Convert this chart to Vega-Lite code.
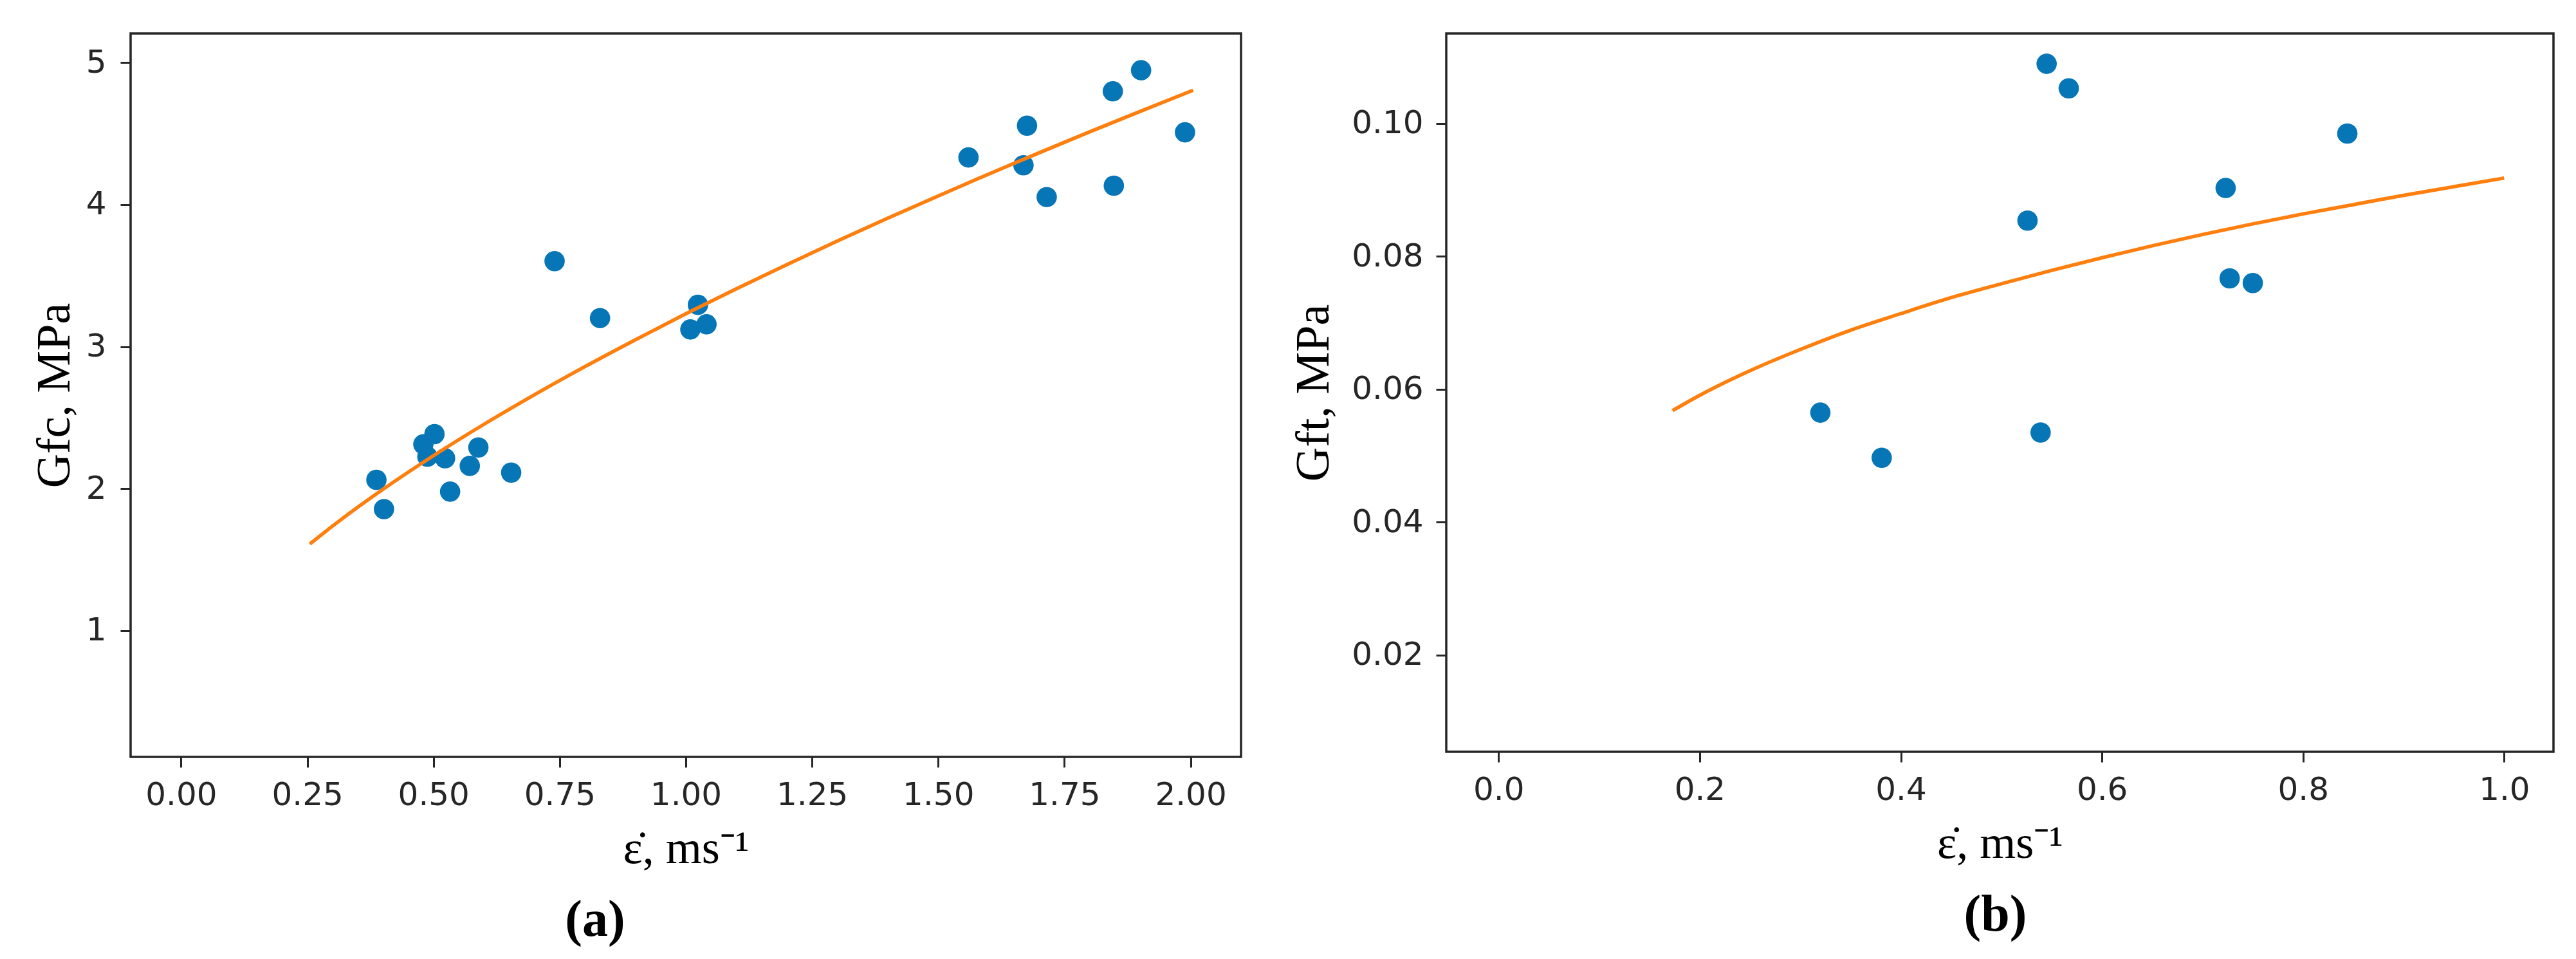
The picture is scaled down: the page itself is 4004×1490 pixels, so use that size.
{
  "$schema": "https://vega.github.io/schema/vega-lite/v6.json",
  "background": "white",
  "padding": {"left": 46, "top": 50, "right": 5, "bottom": 5},
  "datasets": {
    "pa": [
      {"x": 0.387, "y": 2.062}, {"x": 0.402, "y": 1.856}, {"x": 0.48, "y": 2.312}, {"x": 0.488, "y": 2.225},
      {"x": 0.502, "y": 2.384}, {"x": 0.523, "y": 2.214}, {"x": 0.533, "y": 1.979}, {"x": 0.572, "y": 2.16},
      {"x": 0.589, "y": 2.29}, {"x": 0.654, "y": 2.113}, {"x": 0.74, "y": 3.602}, {"x": 0.83, "y": 3.201},
      {"x": 1.009, "y": 3.121}, {"x": 1.024, "y": 3.294}, {"x": 1.041, "y": 3.157}, {"x": 1.56, "y": 4.332},
      {"x": 1.669, "y": 4.277}, {"x": 1.676, "y": 4.556}, {"x": 1.715, "y": 4.053}, {"x": 1.846, "y": 4.798},
      {"x": 1.848, "y": 4.133}, {"x": 1.902, "y": 4.946}, {"x": 1.989, "y": 4.509}
    ],
    "la": [
      {"x": 0.255, "y": 1.61}, {"x": 0.3, "y": 1.736}, {"x": 0.35, "y": 1.869}, {"x": 0.4, "y": 1.995},
      {"x": 0.5, "y": 2.232}, {"x": 0.6, "y": 2.453}, {"x": 0.7, "y": 2.661}, {"x": 0.8, "y": 2.859},
      {"x": 0.9, "y": 3.048}, {"x": 1.0, "y": 3.231}, {"x": 1.1, "y": 3.407}, {"x": 1.2, "y": 3.577},
      {"x": 1.3, "y": 3.743}, {"x": 1.4, "y": 3.904}, {"x": 1.5, "y": 4.061}, {"x": 1.6, "y": 4.215},
      {"x": 1.7, "y": 4.365}, {"x": 1.8, "y": 4.512}, {"x": 1.9, "y": 4.656}, {"x": 2.005, "y": 4.805}
    ],
    "pb": [
      {"x": 0.32, "y": 0.0565}, {"x": 0.381, "y": 0.0497}, {"x": 0.526, "y": 0.0854}, {"x": 0.539, "y": 0.0535},
      {"x": 0.545, "y": 0.109}, {"x": 0.567, "y": 0.1053}, {"x": 0.723, "y": 0.0903}, {"x": 0.727, "y": 0.0767},
      {"x": 0.75, "y": 0.076}, {"x": 0.844, "y": 0.0985}
    ],
    "lb": [
      {"x": 0.173, "y": 0.0568}, {"x": 0.2, "y": 0.0591}, {"x": 0.25, "y": 0.0628}, {"x": 0.3, "y": 0.066},
      {"x": 0.35, "y": 0.0689}, {"x": 0.4, "y": 0.0714}, {"x": 0.45, "y": 0.0738}, {"x": 0.5, "y": 0.0759},
      {"x": 0.55, "y": 0.0779}, {"x": 0.6, "y": 0.0798}, {"x": 0.65, "y": 0.0816}, {"x": 0.7, "y": 0.0833},
      {"x": 0.75, "y": 0.0849}, {"x": 0.8, "y": 0.0864}, {"x": 0.85, "y": 0.0878}, {"x": 0.9, "y": 0.0892},
      {"x": 0.95, "y": 0.0905}, {"x": 1.0, "y": 0.0918}
    ]
  },
  "spacing": 72,
  "hconcat": [
    {
      "width": 1726,
      "height": 1124,
      "title": {"text": "(a)", "orient": "bottom", "frame": "group", "anchor": "middle", "dx": -141, "offset": 37, "font": "Liberation Serif", "fontSize": 80, "fontWeight": "bold", "color": "black"},
      "layer": [
        {
          "data": {"name": "pa"},
          "mark": {"type": "point", "filled": true, "size": 1000, "color": "#0776b6", "opacity": 1},
          "encoding": {
            "x": {"field": "x", "type": "quantitative", "scale": {"domain": [-0.1, 2.1], "nice": false, "zero": false},
                  "axis": {"title": "\u03b5\u0307, ms\u207b\u00b9", "values": [0, 0.25, 0.5, 0.75, 1, 1.25, 1.5, 1.75, 2], "format": ".2f", "titlePadding": 23}},
            "y": {"field": "y", "type": "quantitative", "scale": {"domain": [0.111, 5.205], "nice": false, "zero": false},
                  "axis": {"title": "Gfc, MPa", "titleFontSize": 74, "values": [1, 2, 3, 4, 5], "format": "d", "labelPadding": 22, "titlePadding": 10}}
          }
        },
        {
          "data": {"name": "la"},
          "mark": {"type": "line", "color": "#ff7f0e", "strokeWidth": 5.5, "interpolate": "monotone"},
          "encoding": {
            "x": {"field": "x", "type": "quantitative"},
            "y": {"field": "y", "type": "quantitative"}
          }
        }
      ]
    },
    {
      "width": 1721,
      "height": 1116,
      "title": {"text": "(b)", "orient": "bottom", "frame": "group", "anchor": "middle", "dx": -7, "offset": 37, "font": "Liberation Serif", "fontSize": 80, "fontWeight": "bold", "color": "black"},
      "layer": [
        {
          "data": {"name": "pb"},
          "mark": {"type": "point", "filled": true, "size": 1000, "color": "#0776b6", "opacity": 1},
          "encoding": {
            "x": {"field": "x", "type": "quantitative", "scale": {"domain": [-0.052, 1.049], "nice": false, "zero": false},
                  "axis": {"title": "\u03b5\u0307, ms\u207b\u00b9", "values": [0, 0.2, 0.4, 0.6, 0.8, 1.0], "format": ".1f", "titlePadding": 23}},
            "y": {"field": "y", "type": "quantitative", "scale": {"domain": [0.00546, 0.11356], "nice": false, "zero": false},
                  "axis": {"title": "Gft, MPa", "titleFontSize": 74, "values": [0.02, 0.04, 0.06, 0.08, 0.1], "format": ".2f", "labelPadding": 20, "titlePadding": 20}}
          }
        },
        {
          "data": {"name": "lb"},
          "mark": {"type": "line", "color": "#ff7f0e", "strokeWidth": 5.5, "interpolate": "monotone"},
          "encoding": {
            "x": {"field": "x", "type": "quantitative"},
            "y": {"field": "y", "type": "quantitative"}
          }
        }
      ]
    }
  ],
  "config": {
    "view": {"stroke": "#262626", "strokeWidth": 3.5},
    "axis": {
      "grid": false,
      "domain": false,
      "tickColor": "#262626",
      "tickWidth": 3,
      "tickSize": 16,
      "labelFont": "DejaVu Sans",
      "labelFontSize": 50,
      "labelColor": "#262626",
      "labelPadding": 18,
      "titleFont": "Liberation Serif",
      "titleFontSize": 72,
      "titleFontWeight": "normal",
      "titleColor": "black"
    }
  }
}
